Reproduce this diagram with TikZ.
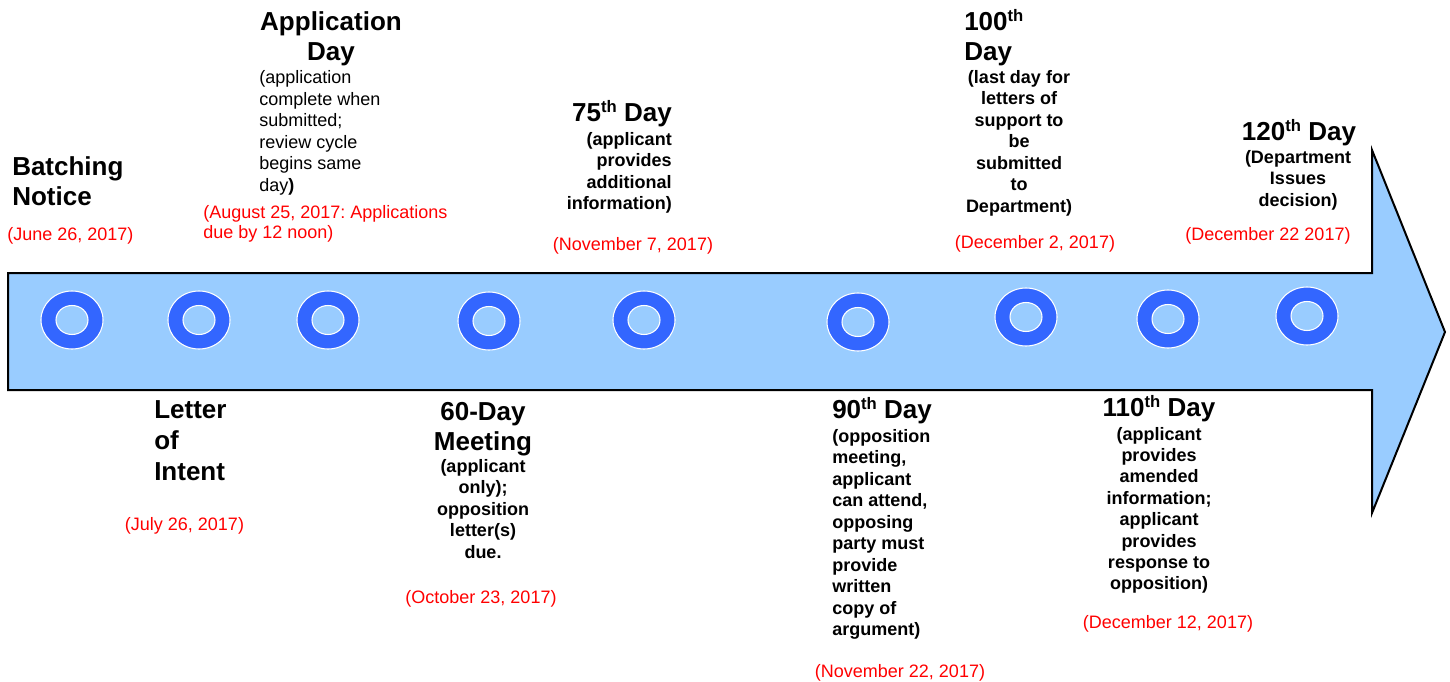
\documentclass[tikz,border=0pt]{standalone}
\usepackage{fontspec}
\setmainfont{Liberation Sans}
\usetikzlibrary{shapes.geometric}
\frenchspacing
\definecolor{arrowfill}{HTML}{99CCFF}
\definecolor{ringblue}{HTML}{3366FF}
\definecolor{datered}{HTML}{FF0000}
\newcommand\ordth{\raisebox{6.5pt}{\fontsize{12.5}{12.5}\selectfont th}}
\tikzset{
  title/.style={font=\fontsize{19.5}{23}\selectfont\bfseries, inner sep=0pt},
  sub/.style={font=\fontsize{13.5}{16}\selectfont, inner sep=0pt},
  subb/.style={font=\fontsize{13.5}{16}\selectfont\bfseries, inner sep=0pt},
  datetext/.style={font=\fontsize{13.5}{16}\selectfont, text=datered, inner sep=0pt},
  outerring/.style={ellipse, fill=ringblue, draw=white, line width=0.8pt, minimum width=46.5pt, minimum height=43.5pt, inner sep=0pt},
  innerring/.style={ellipse, fill=arrowfill, draw=white, line width=0.8pt, minimum width=24pt, minimum height=21.75pt, inner sep=0pt},
  bigarrow/.style={fill=arrowfill, draw=black, line width=1.5pt, line join=miter},
}
\begin{document}
\begin{tikzpicture}[x=0.75pt, y=-0.75pt]
\useasboundingbox (0,0) rectangle (1450,682);
% arrow
\draw[bigarrow] (8,273) -- (1372,273) -- (1372,150) -- (1445,332) -- (1372,513) -- (1372,390) -- (8,390) -- cycle;
% rings
\foreach \x/\y [count=\i] in {72/320, 199/320, 328/320, 489/321, 644/320, 858/322, 1026/317, 1168/319, 1307/316} {
  \node[outerring] (r\i) at (\x,\y) {};
  \node[innerring] (ri\i) at (r\i) {};
}
% Batching Notice
\node[title, anchor=base west] (bn1) at (12,175) {Batching};
\node[title, anchor=base west] (bn2) at (12,205) {Notice};
\node[datetext, anchor=base west] (bnd) at (7,240) {(June 26, 2017)};
% Application Day
\node[title, anchor=base] (ad1) at (331,30) {Application};
\node[title, anchor=base] (ad2) at (331,60) {Day};
\foreach \t [count=\i] in {{(application}, {complete when}, {submitted;}, {review cycle}, {begins same}, {day\textbf{)}}}
  \node[sub, anchor=base west] (ads\i) at (259,{83.5+(\i-1)*21.5}) {\t};
\node[datetext, anchor=base west] (add1) at (203,218) {(August 25, 2017: Applications};
\node[datetext, anchor=base west] (add2) at (203,238) {due by 12 noon)};
% 75th Day
\node[title, anchor=base east] (d75) at (672,121) {75\ordth{} Day};
\foreach \t [count=\i] in {{(applicant}, {provides}, {additional}, {information)}}
  \node[subb, anchor=base east] (d75s\i) at (672,{145+(\i-1)*21.6}) {\t};
\node[datetext, anchor=base] (d75d) at (633,250) {(November 7, 2017)};
% 100th Day
\node[title, anchor=base west] (d100a) at (964,30) {100\ordth};
\node[title, anchor=base west] (d100b) at (964,60) {Day};
\foreach \t [count=\i] in {{(last day for}, {letters of}, {support to}, {be}, {submitted}, {to}, {Department)}}
  \node[subb, anchor=base] (d100s\i) at (1019,{83+(\i-1)*21.5}) {\t};
\node[datetext, anchor=base] (d100d) at (1035,248) {(December 2, 2017)};
% 120th Day
\node[title, anchor=base] (d120) at (1299,140) {120\ordth{} Day};
\foreach \t [count=\i] in {{(Department}, {Issues}, {decision)}}
  \node[subb, anchor=base] (d120s\i) at (1298,{163+(\i-1)*21.5}) {\t};
\node[datetext, anchor=base] (d120d) at (1268,240) {(December 22 2017)};
% Letter of Intent
\node[title, anchor=base west] (li1) at (154,418) {Letter};
\node[title, anchor=base west] (li2) at (154,449) {of};
\node[title, anchor=base west] (li3) at (154,480) {Intent};
\node[datetext, anchor=base] (lid) at (184.5,530) {(July 26, 2017)};
% 60-Day Meeting
\node[title, anchor=base] (d60a) at (483,420) {60-Day};
\node[title, anchor=base] (d60b) at (483,450) {Meeting};
\foreach \t [count=\i] in {{(applicant}, {only);}, {opposition}, {letter(s)}, {due.}}
  \node[subb, anchor=base] (d60s\i) at (483,{472+(\i-1)*21.5}) {\t};
\node[datetext, anchor=base] (d60d) at (481,603) {(October 23, 2017)};
% 90th Day
\node[title, anchor=base west] (d90) at (832,418) {90\ordth{} Day};
\foreach \t [count=\i] in {{(opposition}, {meeting,}, {applicant}, {can attend,}, {opposing}, {party must}, {provide}, {written}, {copy of}, {argument)}}
  \node[subb, anchor=base west] (d90s\i) at (832,{442+(\i-1)*21.5}) {\t};
\node[datetext, anchor=base] (d90d) at (900,677) {(November 22, 2017)};
% 110th Day
\node[title, anchor=base] (d110) at (1159,416) {110\ordth{} Day};
\foreach \t [count=\i] in {{(applicant}, {provides}, {amended}, {information;}, {applicant}, {provides}, {response to}, {opposition)}}
  \node[subb, anchor=base] (d110s\i) at (1159,{440+(\i-1)*21.4}) {\t};
\node[datetext, anchor=base] (d110d) at (1168,628) {(December 12, 2017)};
\end{tikzpicture}
\end{document}
